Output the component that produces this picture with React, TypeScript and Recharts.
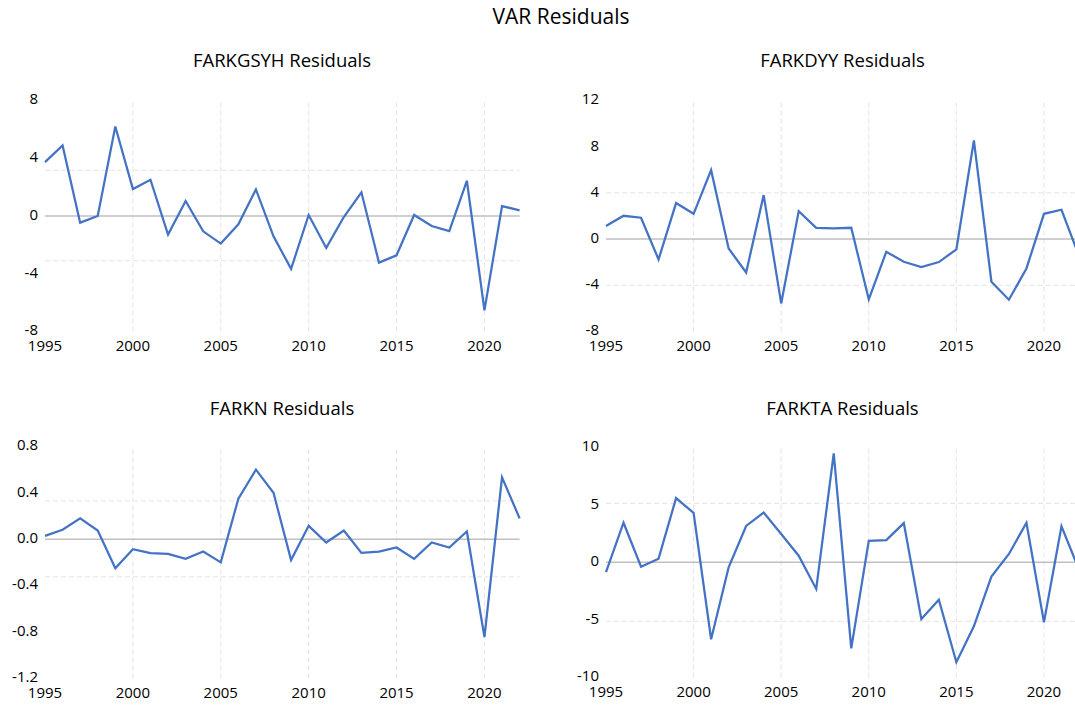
import { LineChart, Line, XAxis, YAxis, ReferenceLine } from 'recharts'

const years = [
  1995, 1996, 1997, 1998, 1999, 2000, 2001, 2002, 2003, 2004, 2005, 2006, 2007, 2008,
  2009, 2010, 2011, 2012, 2013, 2014, 2015, 2016, 2017, 2018, 2019, 2020, 2021, 2022,
]
const xTicks = [1995, 2000, 2005, 2010, 2015, 2020]
const xGridYears = [2000, 2005, 2010, 2015, 2020]

const farkgsyh = [
  3.73, 4.88, -0.46, 0.0, 6.2, 1.87, 2.51, -1.29, 1.04, -1.06, -1.91, -0.58, 1.84, -1.41,
  -3.66, 0.07, -2.21, -0.07, 1.64, -3.23, -2.72, 0.07, -0.69, -1.04, 2.44, -6.54, 0.69, 0.39,
]
const farkdyy = [
  1.13, 2.02, 1.85, -1.76, 3.12, 2.19, 5.97, -0.81, -2.89, 3.81, -5.57, 2.42, 0.98, 0.92,
  0.98, -5.22, -1.1, -1.96, -2.42, -1.99, -0.89, 8.54, -3.69, -5.25, -2.54, 2.19, 2.54, -1.45,
]
const farkn = [
  0.029, 0.081, 0.18, 0.075, -0.25, -0.087, -0.12, -0.127, -0.17, -0.107, -0.2, 0.35, 0.6, 0.4,
  -0.18, 0.115, -0.029, 0.075, -0.118, -0.107, -0.072, -0.17, -0.029, -0.072, 0.066, -0.846, 0.534, 0.18,
]
const farkta = [
  -0.85, 3.44, -0.38, 0.32, 5.58, 4.29, -6.68, -0.44, 3.16, 4.32, 2.46, 0.58, -2.31, 9.46,
  -7.47, 1.87, 1.93, 3.41, -4.93, -3.24, -8.67, -5.55, -1.23, 0.73, 3.44, -5.2, 3.13, -0.63,
]

const FONT = '"Open Sans", sans-serif'
const LINE_BLUE = '#4472C4'
const TICK_SIZE = 15

type PanelProps = {
  values: number[]
  left: number
  top: number
  width: number
  height: number
  margin: { top: number; right: number; bottom: number; left: number }
  domain: [number, number]
  yTicks: number[]
  hGrid: number[]
  fmt: (v: number) => string
}

// y labels sit a touch above their tick, like the original
function makeYTick(fmt: (v: number) => string) {
  return (props: any) => {
    const { x, y, payload } = props
    return (
      <text
        x={x}
        y={y - 1.5}
        dy="0.355em"
        textAnchor="end"
        fontSize={TICK_SIZE}
        fontFamily={FONT}
        fill="#000"
      >
        {fmt(payload.value)}
      </text>
    )
  }
}

function Panel({ values, left, top, width, height, margin, domain, yTicks, hGrid, fmt }: PanelProps) {
  const rows = years.map((y, i) => ({ year: y, v: values[i] }))
  return (
    <div style={{ position: 'absolute', left, top, width, height }}>
      <LineChart width={width} height={height} data={rows} margin={margin}>
        <XAxis
          dataKey="year"
          type="number"
          domain={[1995, 2022]}
          ticks={xTicks}
          interval={0}
          axisLine={false}
          tickLine={false}
          tickMargin={3}
          height={25}
          tick={{ fill: '#000', fontSize: TICK_SIZE, fontFamily: FONT }}
        />
        <YAxis
          type="number"
          domain={domain}
          ticks={yTicks}
          interval={0}
          axisLine={false}
          tickLine={false}
          tickMargin={1}
          width={40}
          tick={makeYTick(fmt)}
        />
        {xGridYears.map((x) => (
          <ReferenceLine key={'x' + x} x={x} stroke="#e4e4e4" strokeDasharray="5 3" strokeWidth={1} />
        ))}
        {hGrid.map((y) => (
          <ReferenceLine key={'y' + y} y={y} stroke="#e4e4e4" strokeDasharray="5 3" strokeWidth={1} />
        ))}
        <ReferenceLine y={0} stroke="#bfbfbf" strokeWidth={1.5} />
        <Line
          type="linear"
          dataKey="v"
          stroke={LINE_BLUE}
          strokeWidth={2.25}
          dot={false}
          isAnimationActive={false}
        />
      </LineChart>
    </div>
  )
}

const int = (v: number) => String(v)
const oneDec = (v: number) => v.toFixed(1)

export default function App() {
  return (
    <div
      style={{
        position: 'absolute',
        left: 0,
        top: 0,
        width: 1075,
        height: 706,
        overflow: 'hidden',
        background: '#fff',
        fontFamily: FONT,
      }}
    >
      <svg width={1075} height={706} style={{ position: 'absolute', left: 0, top: 0 }}>
        <text x={561} y={23.5} textAnchor="middle" fontSize={21} fontFamily={FONT} fill="#000">
          VAR Residuals
        </text>
        <text x={282} y={66.5} textAnchor="middle" fontSize={18.5} fontFamily={FONT} fill="#000">
          FARKGSYH Residuals
        </text>
        <text x={842.5} y={66.5} textAnchor="middle" fontSize={18.5} fontFamily={FONT} fill="#000">
          FARKDYY Residuals
        </text>
        <text x={282} y={414.5} textAnchor="middle" fontSize={18.5} fontFamily={FONT} fill="#000">
          FARKN Residuals
        </text>
        <text x={842.5} y={414.5} textAnchor="middle" fontSize={18.5} fontFamily={FONT} fill="#000">
          FARKTA Residuals
        </text>
      </svg>
      <Panel
        values={farkgsyh}
        left={0}
        top={80}
        width={540}
        height={280}
        margin={{ top: 20.5, right: 20.4, bottom: 3.5, left: 5 }}
        domain={[-8, 8]}
        yTicks={[-8, -4, 0, 4, 8]}
        hGrid={[3.17, -3.1]}
        fmt={int}
      />
      <Panel
        values={farkdyy}
        left={560}
        top={80}
        width={530}
        height={280}
        margin={{ top: 20.5, right: 11, bottom: 3.5, left: 6 }}
        domain={[-8, 12]}
        yTicks={[-8, -4, 0, 4, 8, 12]}
        hGrid={[4, -4]}
        fmt={int}
      />
      <Panel
        values={farkn}
        left={0}
        top={420}
        width={540}
        height={286}
        margin={{ top: 26.5, right: 20.4, bottom: 2.8, left: 5 }}
        domain={[-1.2, 0.8]}
        yTicks={[-1.2, -0.8, -0.4, 0, 0.4, 0.8]}
        hGrid={[0.33, -0.325]}
        fmt={oneDec}
      />
      <Panel
        values={farkta}
        left={560}
        top={420}
        width={530}
        height={286}
        margin={{ top: 27.2, right: 11, bottom: 3.5, left: 6 }}
        domain={[-10, 10]}
        yTicks={[-10, -5, 0, 5, 10]}
        hGrid={[5.12, -5.12]}
        fmt={int}
      />
    </div>
  )
}
